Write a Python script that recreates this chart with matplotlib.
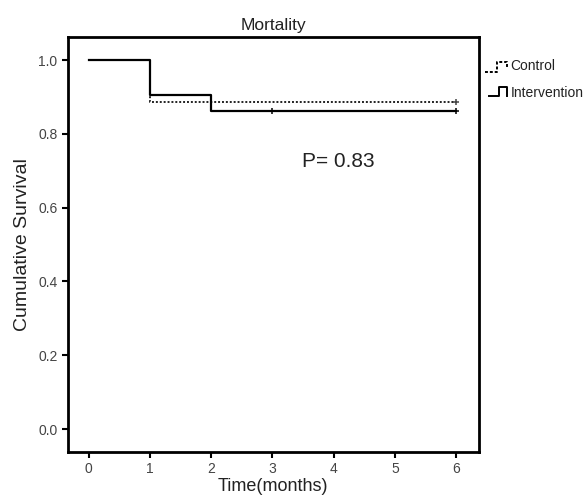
import matplotlib
matplotlib.use("Agg")
import matplotlib.pyplot as plt
from matplotlib.lines import Line2D

plt.rcParams['font.family'] = ['Liberation Sans', 'DejaVu Sans']

# Kaplan-Meier step data (time, survival)
control_t = [0, 1, 6]
control_s = [1.0, 0.886, 0.886]
control_censor_t = [6]
control_censor_s = [0.886]

interv_t = [0, 1, 2, 6]
interv_s = [1.0, 0.905, 0.862, 0.862]
interv_censor_t = [3, 6]
interv_censor_s = [0.862, 0.862]

x_ticks = [0, 1, 2, 3, 4, 5, 6]
y_ticks = [0.0, 0.2, 0.4, 0.6, 0.8, 1.0]

fig = plt.figure(figsize=(5.86, 4.95), dpi=100)
ax = fig.add_axes([0.116, 0.087, 0.701, 0.838])

ax.step(control_t, control_s, where='post', color='#222222', linestyle=(0, (1, 1)), linewidth=1.4)
ax.step(interv_t, interv_s, where='post', color='black', linewidth=1.6)
ax.plot(control_censor_t, control_censor_s, linestyle='none', marker='+', color='#444444', markersize=5, markeredgewidth=1.1)
ax.plot(interv_censor_t, interv_censor_s, linestyle='none', marker='+', color='black', markersize=5, markeredgewidth=1.1)

ax.set_xlim(-0.34, 6.37)
ax.set_ylim(-0.062, 1.062)
ax.set_xticks(x_ticks)
ax.set_yticks(y_ticks)
ax.set_yticklabels(["%.1f" % v for v in y_ticks])
for s in ax.spines.values():
    s.set_linewidth(2)
ax.tick_params(direction='out', length=4, width=1.5, labelsize=10, labelcolor='#444444')

ax.set_title("Mortality", fontsize=12.5, color='#222222', pad=5)
ax.set_xlabel("Time(months)", fontsize=13, color='#222222', labelpad=1)
ax.set_ylabel("Cumulative Survival", fontsize=14, color='#222222', labelpad=5)
ax.text(4.08, 0.726, "P= 0.83", fontsize=15, color='#222222', ha='center', va='center')

# legend with step-shaped icons, outside the axes
def fx(px):
    return px / 586.0
def fy(py):
    return 1 - py / 495.0

fig.add_artist(Line2D([fx(485), fx(497), fx(497), fx(507), fx(507)],
                      [fy(72), fy(72), fy(62), fy(62), fy(68)],
                      color='black', linestyle=(0, (1.5, 1)), linewidth=1.4))
fig.add_artist(Line2D([fx(489), fx(499), fx(499), fx(507), fx(507)],
                      [fy(96), fy(96), fy(87), fy(87), fy(96)],
                      color='black', linewidth=1.4))
fig.text(fx(510), fy(66), "Control", fontsize=10, color='#222222', va='center')
fig.text(fx(511), fy(93), "Intervention", fontsize=10, color='#222222', va='center')

fig.savefig("out.png", dpi=100)
